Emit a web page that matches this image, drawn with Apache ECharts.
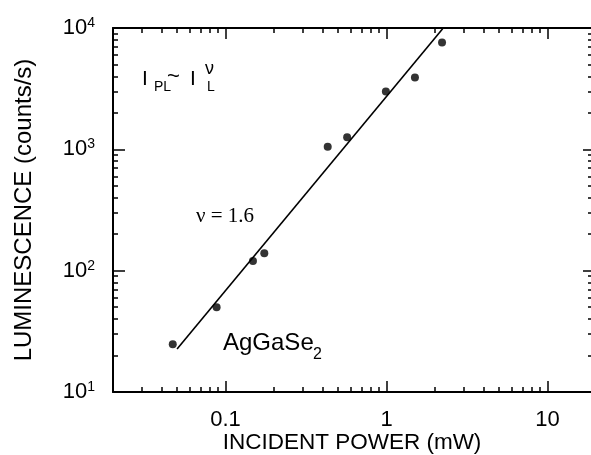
<!DOCTYPE html>
<html>
<head>
<meta charset="utf-8">
<script src="https://cdn.jsdelivr.net/npm/echarts@6/dist/echarts.min.js"></script>
<style>
  html, body { margin: 0; padding: 0; background: #fff; }
  #chart { width: 591px; height: 455px; }
</style>
</head>
<body>
<div id="chart"></div>
<script>
// Measured photoluminescence of AgGaSe2 versus incident power
const powerMW = [0.047, 0.088, 0.148, 0.174, 0.431, 0.569, 0.99, 1.5, 2.21];
const luminescence = [24.7, 50, 120, 139, 1050, 1260, 2990, 3900, 7590];

// Power-law guide line I_PL ~ I_L^nu
const nu = 1.6;
const fitPrefactor = 2735;
const fitPowerRange = [0.05, 2.23];

// Axis extents and ticks
const xRange = [0.02, 18.6];
const yRange = [10, 10000];
const xMajorTicks = [0.1, 1, 10];
const xMinorTicks = [0.03, 0.04, 0.05, 0.06, 0.07, 0.08, 0.09,
                     0.2, 0.3, 0.4, 0.5, 0.6, 0.7, 0.8, 0.9,
                     2, 3, 4, 5, 6, 7, 8, 9];
const yMajorTicks = [10, 100, 1000, 10000];
const yMinorTicks = [20, 30, 40, 50, 60, 70, 80, 90,
                     200, 300, 400, 500, 600, 700, 800, 900,
                     2000, 3000, 4000, 5000, 6000, 7000, 8000, 9000];
const xLabelText = ['0.1', '1', '10'];

const FONT = 'Liberation Sans';
const INK = '#000';

const fitLine = fitPowerRange.map(p => [p, fitPrefactor * Math.pow(p, nu)]);
const points = powerMW.map((p, i) => [p, luminescence[i]]);

// Main (log) x axis carrying the data, labels and decade ticks
function xMainAxis(position, withLabels) {
  return {
    type: 'log', position: position, min: xRange[0], max: xRange[1],
    axisLine: { show: true, onZero: false, lineStyle: { color: INK, width: 2 } },
    axisTick: { show: true, inside: true, length: 11, customValues: xMajorTicks,
                lineStyle: { color: INK, width: 1.5 } },
    axisLabel: withLabels ? {
      show: true, customValues: xMajorTicks, margin: 17,
      fontFamily: FONT, fontSize: 22, color: INK,
      formatter: v => xLabelText[xMajorTicks.findIndex(t => Math.abs(t - v) < 1e-9)]
    } : { show: false },
    splitLine: { show: false }, minorTick: { show: false },
    name: withLabels ? 'INCIDENT POWER (mW)' : '',
    nameLocation: 'middle', nameGap: 39, nameMoveOverlap: false,
    nameTextStyle: { fontFamily: FONT, fontSize: 22.5, color: INK }
  };
}

// Minor-tick axis laid out in decades (log10 units), ticks only
function xMinorAxis(position) {
  return {
    type: 'value', position: position,
    min: Math.log10(xRange[0]), max: Math.log10(xRange[1]),
    axisLine: { show: false, onZero: false },
    axisTick: { show: true, inside: true, length: 5,
                customValues: xMinorTicks.map(Math.log10),
                lineStyle: { color: INK, width: 1.5 } },
    axisLabel: { show: false },
    splitLine: { show: false }
  };
}

function yMainAxis(position, withLabels, tickLen, showLine) {
  return {
    type: 'log', position: position, min: yRange[0], max: yRange[1],
    axisLine: { show: showLine, onZero: false, lineStyle: { color: INK, width: 2 } },
    axisTick: { show: true, inside: true, length: tickLen, customValues: yMajorTicks,
                lineStyle: { color: INK, width: 1.5 } },
    axisLabel: withLabels ? {
      show: true, customValues: yMajorTicks, margin: 18,
      formatter: v => '{b|10}{e|' + Math.round(Math.log10(v)) + '}',
      rich: {
        b: { fontFamily: FONT, fontSize: 22, color: INK, lineHeight: 24 },
        e: { fontFamily: FONT, fontSize: 14, color: INK, verticalAlign: 'top', lineHeight: 14 }
      }
    } : { show: false },
    splitLine: { show: false }, minorTick: { show: false },
    name: withLabels ? 'LUMINESCENCE (counts/s)' : '',
    nameLocation: 'middle', nameGap: 77, nameMoveOverlap: false,
    nameTextStyle: { fontFamily: FONT, fontSize: 24, color: INK }
  };
}

function yMinorAxis(position, tickLen) {
  return {
    type: 'value', position: position,
    min: Math.log10(yRange[0]), max: Math.log10(yRange[1]),
    axisLine: { show: false, onZero: false },
    axisTick: { show: true, inside: true, length: tickLen,
                customValues: yMinorTicks.map(Math.log10),
                lineStyle: { color: INK, width: 1.5 } },
    axisLabel: { show: false },
    splitLine: { show: false }
  };
}

const chart = echarts.init(document.getElementById('chart'), null, { renderer: 'canvas' });

chart.setOption({
  backgroundColor: '#fff',
  animation: false,
  grid: { left: 113, right: 0, top: 28, bottom: 63, containLabel: false, outerBoundsMode: 'none' },
  xAxis: [
    xMainAxis('bottom', true),
    xMinorAxis('bottom'),
    xMainAxis('top', false),
    xMinorAxis('top')
  ],
  yAxis: [
    yMainAxis('left', true, 12, true),
    yMinorAxis('left', 5),
    yMainAxis('right', false, 8, false),
    yMinorAxis('right', 3)
  ],
  series: [
    {
      type: 'line', name: 'fit', data: fitLine,
      xAxisIndex: 0, yAxisIndex: 0,
      showSymbol: false, symbol: 'none',
      lineStyle: { color: INK, width: 1.6 }
    },
    {
      type: 'scatter', name: 'AgGaSe2', data: points,
      xAxisIndex: 0, yAxisIndex: 0,
      symbol: 'circle', symbolSize: 8,
      itemStyle: { color: INK }
    }
  ],
  graphic: [
    { type: 'text', x: 142, y: 69, style: { text: 'I', fontFamily: FONT, fontSize: 21, fill: INK } },
    { type: 'text', x: 154, y: 80, style: { text: 'PL', fontFamily: FONT, fontSize: 14, fill: INK } },
    { type: 'text', x: 167, y: 66, style: { text: '~', fontFamily: FONT, fontSize: 22, fill: INK } },
    { type: 'text', x: 190, y: 69, style: { text: 'I', fontFamily: FONT, fontSize: 21, fill: INK } },
    { type: 'text', x: 207, y: 80, style: { text: 'L', fontFamily: FONT, fontSize: 14, fill: INK } },
    { type: 'text', x: 205, y: 60, style: { text: 'ν', fontFamily: FONT, fontSize: 18, fill: INK } },
    { type: 'text', x: 196, y: 206, style: { text: 'ν = 1.6', fontFamily: 'Liberation Serif', fontSize: 21, fill: INK } },
    { type: 'text', x: 223, y: 331, style: { text: 'AgGaSe', fontFamily: FONT, fontSize: 24, fill: INK } },
    { type: 'text', x: 313, y: 347, style: { text: '2', fontFamily: FONT, fontSize: 16, fill: INK } }
  ]
});
</script>
</body>
</html>
